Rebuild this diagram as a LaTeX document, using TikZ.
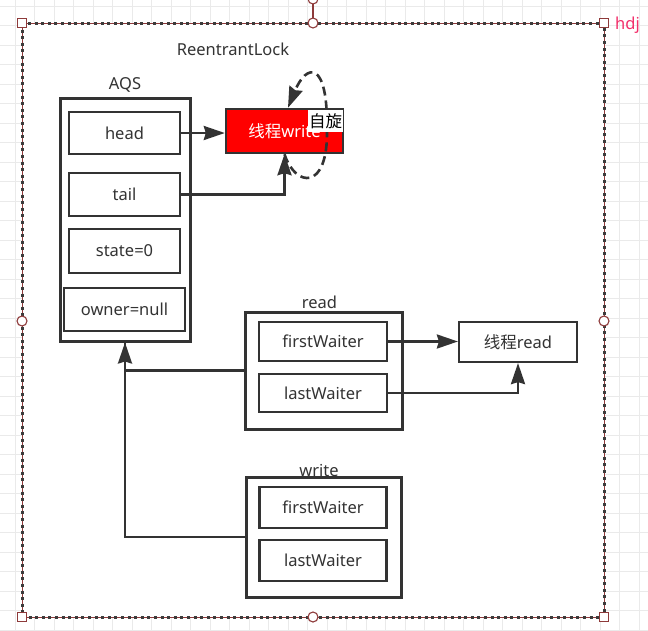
\documentclass[tikz,border=0pt]{standalone}
\usepackage{fontspec}
\setmainfont{Noto Sans}
\newfontfamily\cjk{Noto Sans CJK SC}
\usetikzlibrary{arrows.meta}
\definecolor{dk}{HTML}{333333}
\definecolor{hndc}{HTML}{8E3A3A}
\definecolor{gridc}{HTML}{EAEAEA}
\definecolor{dotc}{HTML}{3C3C3C}
\definecolor{pinkred}{HTML}{F2306B}
\newcommand\zh[1]{{\cjk #1}}
\tikzset{
  box/.style={draw=dk, line width=3pt, fill=white, inner sep=0pt, text=dk},
  cell/.style={box, line width=2.8pt},
  thinbox/.style={draw=dk, line width=2.2pt, fill=white, inner sep=0pt, text=dk},
  lbl/.style={anchor=base, text=dk, inner sep=0pt},
  tip/.style={-{Stealth[length=21pt,width=14pt,inset=2pt]}},
  conn/.style={draw=dk, line width=2.6pt, tip},
  plain/.style={draw=dk, line width=2.6pt},
  hnd/.style={draw=hndc, line width=1.1pt, fill=white},
}
\begin{document}
\begin{tikzpicture}[x=1pt,y=-1pt,font=\fontsize{16.5}{19}\selectfont]
\useasboundingbox (0,0) rectangle (648,630);
% grid background
\foreach \i in {0,...,33} {
  \draw[gridc, line width=0.9pt] ({15+19.5*\i},0) -- ({15+19.5*\i},630);
}
\foreach \j in {0,...,32} {
  \draw[gridc, line width=0.9pt] (0,{6+19.5*\j}) -- (648,{6+19.5*\j});
}
\fill[white] (22,23) rectangle (604,617);
% container border
\draw[hndc, line width=0.8pt] (22,23) rectangle (604,617);
\draw[dotc, line width=3pt, dash pattern=on 3pt off 3.6pt] (22,23) rectangle (604,617);
% handles
\draw[hndc, line width=1.1pt] (313,4) -- (313,18);
\draw[hnd] (313,-1) circle (5);
\foreach \p in {(22,23),(604,23),(22,617),(604,617)} {
  \draw[hnd] \p ++(-4.6,-4.6) rectangle ++(9.2,9.2);
}
\foreach \p in {(313,23),(22,321),(604,321),(313,617)} {
  \draw[hnd] \p circle (5);
}
\node[lbl, text=pinkred] (hdj) at (627.5,29) {hdj};
\node[lbl] (rl) at (233,55) {ReentrantLock};

% AQS
\node[lbl] (aqslbl) at (125,89) {AQS};
\node[box, minimum width=130pt, minimum height=243pt] (aqs) at (125,219.5) {};
\node[cell, minimum width=111pt, minimum height=42pt] (head) at (124.5,133) {head};
\node[cell, minimum width=111pt, minimum height=43pt] (tail) at (124.5,194.5) {tail};
\node[cell, minimum width=111pt, minimum height=44pt] (state) at (124.5,251) {state=0};
\node[cell, minimum width=121pt, minimum height=43pt] (owner) at (124.5,309.5) {owner=null};

% thread write
\node[draw=dk, line width=2.4pt, fill=red, text=white, inner sep=0pt,
      minimum width=117pt, minimum height=44pt] (tw) at (284.5,131) {\zh{线程}write};

% read condition
\node[lbl] (readlbl) at (319.5,308) {read};
\node[box, minimum width=157pt, minimum height=117pt] (readbox) at (323.5,370.5) {};
\node[cell, minimum width=128pt, minimum height=39pt] (rfirst) at (323,341.5) {firstWaiter};
\node[cell, minimum width=128pt, minimum height=38pt] (rlast) at (323,393) {lastWaiter};
\node[thinbox, minimum width=118pt, minimum height=40pt] (tread) at (518,342) {\zh{线程}read};

% write condition
\node[lbl] (writelbl) at (319,476) {write};
\node[box, minimum width=155pt, minimum height=120pt] (writebox) at (323.5,537) {};
\node[cell, minimum width=127pt, minimum height=41pt] (wfirst) at (323,507.5) {firstWaiter};
\node[cell, minimum width=127pt, minimum height=41pt] (wlast) at (323,560.5) {lastWaiter};

% connectors
\draw[conn] (head.east) -- (head.east -| tw.west);
\draw[conn] (tail.east) -| (tw.south);
\draw[conn] (rfirst.east) -- (rfirst.east -| tread.west);
\draw[conn] (rlast.east) -| (tread.south);
\draw[plain] (writebox.west) -| (aqs.south);
\draw[conn] (readbox.west) -| (aqs.south);

% spin loop
\draw[draw=dk, line width=2.6pt, dash pattern=on 9pt off 5pt, tip]
  (tw.south) .. controls (295,187) and (328,192) .. (327,130)
             .. controls (328,58) and (306,64) .. ([xshift=3.5pt]tw.north);
\node[fill=white, text=black, inner sep=1pt, minimum height=22pt] (spin) at (325.5,121) {\zh{自旋}};
\end{tikzpicture}
\end{document}
